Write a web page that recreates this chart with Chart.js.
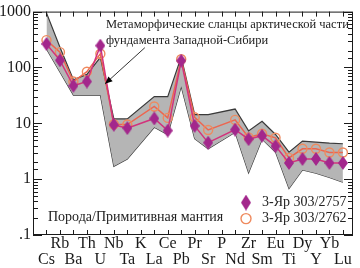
<!DOCTYPE html>
<html>
<head>
<meta charset="utf-8">
<script src="https://cdn.jsdelivr.net/npm/chart.js@4.4.1/dist/chart.umd.min.js"></script>
<style>
    html, body { margin: 0; padding: 0; background: #fff; }
</style>
</head>
<body>
<canvas id="spiderChart" width="360" height="268"></canvas>
<script>
const elements = ['Cs', 'Rb', 'Ba', 'Th', 'U', 'Nb', 'Ta', 'K', 'La', 'Ce', 'Pb', 'Pr', 'Sr', 'P', 'Nd', 'Zr', 'Sm', 'Eu', 'Ti', 'Dy', 'Y', 'Yb', 'Lu'];

// sample 3-Яр 303/2757 (diamonds), 3-Яр 303/2762 (circles); null = not analysed
const sample2757 = [263, 134, 47, 56, 246, 9.4, 8.2, null, 12.2, 7.4, 132, 9.0, 4.5, null, 7.7, 5.2, 6.0, 3.9, 1.95, 2.3, 2.3, 1.95, 1.95];
const sample2762 = [309, 188, 56, 84, 176, 9.6, 9.5, null, 20, 12.5, 140, 12.8, 7.6, null, 11.5, 5.6, 6.5, 5.5, 2.4, 3.5, 3.5, 3.0, 3.0];

// field of metamorphic schists
const fieldUpper = [950, 230, 60, 75, 152, 12, 12, null, 30, 30, 155, 14.3, 14.3, null, 18, 7.3, 10.9, 6.3, 3.05, 4.8, 4.6, 4.4, 4.3];
const fieldLower = [215, 83, 32, 32, 32, 1.7, 2.3, null, 8.5, 6.3, 46, 5.3, 3.5, null, 6.9, 1.3, 5.2, 3.05, 0.68, 1.46, 1.28, 1.07, 0.88];

const yTicks = [0.1, 1, 10, 100, 1000];
const yTickLabels = ['.1', '1', '10', '100', '1000'];

const sampleLabels = ['3-Яр 303/2757', '3-Яр 303/2762'];
const fieldTitle = ['Метаморфические сланцы арктической части', 'фундамента Западной-Сибири'];
const normTitle = 'Порода/Примитивная мантия';

const serif = "'Liberation Serif', 'DejaVu Serif', serif";
const purple = '#a3278c';
const pinkLine = '#d2337c';
const orange = '#ef8a5e';
const orangeLine = '#ec6650';

const toPoints = arr => arr.map((v, i) => v == null ? null : { x: i, y: v }).filter(Boolean);

// tall diamond marker
function makeDiamond(w, h) {
    const c = document.createElement('canvas');
    c.width = w; c.height = h;
    const g = c.getContext('2d');
    g.fillStyle = purple;
    g.beginPath();
    g.moveTo(w / 2, 0);
    g.lineTo(w, h / 2);
    g.lineTo(w / 2, h);
    g.lineTo(0, h / 2);
    g.closePath();
    g.fill();
    return c;
}
const diamond = makeDiamond(10, 14);

const isDecade = v => Math.abs(Math.log10(v) - Math.round(Math.log10(v))) < 1e-6;

const decorPlugin = {
    id: 'decor',
    afterDraw(chart) {
        const { ctx, chartArea: a, scales: { x, y } } = chart;
        ctx.save();
        ctx.strokeStyle = '#1a1a1a';
        ctx.lineWidth = 1;
        ctx.strokeRect(a.left + 0.5, a.top + 0.5, a.width - 1, a.height - 1);

        ctx.beginPath();
        x.ticks.forEach(t => {
            const px = Math.round(x.getPixelForValue(t.value)) + 0.5;
            ctx.moveTo(px, a.bottom); ctx.lineTo(px, a.bottom - 5);
            ctx.moveTo(px, a.top); ctx.lineTo(px, a.top + 5);
        });
        y.ticks.forEach(t => {
            const py = Math.round(y.getPixelForValue(t.value)) + 0.5;
            const len = isDecade(t.value) ? 9 : 5;
            ctx.moveTo(a.left, py); ctx.lineTo(a.left + len, py);
            ctx.moveTo(a.right, py); ctx.lineTo(a.right - len, py);
        });
        ctx.stroke();

        // field caption with arrow
        ctx.fillStyle = '#222';
        ctx.font = '12.5px ' + serif;
        ctx.textBaseline = 'middle';
        ctx.textAlign = 'left';
        ctx.fillText(fieldTitle[0], a.left + 73, a.top + 13);
        ctx.fillText(fieldTitle[1], a.left + 73, a.top + 29);

        const x0 = x.getPixelForValue(7.3), y0 = y.getPixelForValue(226);
        const x1 = x.getPixelForValue(4.35), y1 = y.getPixelForValue(51);
        ctx.strokeStyle = '#333';
        ctx.beginPath();
        ctx.moveTo(x0, y0); ctx.lineTo(x1, y1);
        ctx.stroke();
        const ang = Math.atan2(y1 - y0, x1 - x0);
        ctx.fillStyle = '#000';
        ctx.beginPath();
        ctx.moveTo(x1, y1);
        ctx.lineTo(x1 - 8 * Math.cos(ang - 0.4), y1 - 8 * Math.sin(ang - 0.4));
        ctx.lineTo(x1 - 8 * Math.cos(ang + 0.4), y1 - 8 * Math.sin(ang + 0.4));
        ctx.closePath();
        ctx.fill();

        // normalisation note
        ctx.font = '14px ' + serif;
        ctx.fillStyle = '#222';
        ctx.fillText(normTitle, a.left + 15, a.bottom - 18);

        // legend
        const lx = a.left + 213;
        ctx.drawImage(makeDiamond(10, 16), lx - 5, a.top + 191 - 8);
        ctx.fillText(sampleLabels[0], lx + 16, a.top + 191);
        ctx.strokeStyle = orange;
        ctx.lineWidth = 1.4;
        ctx.beginPath();
        ctx.arc(lx, a.top + 207, 5, 0, Math.PI * 2);
        ctx.stroke();
        ctx.fillText(sampleLabels[1], lx + 16, a.top + 207);
        ctx.restore();
    }
};

const ctx = document.getElementById('spiderChart').getContext('2d');

new Chart(ctx, {
    type: 'line',
    data: {
        datasets: [
            {
                label: sampleLabels[0],
                data: toPoints(sample2757),
                borderColor: pinkLine,
                borderWidth: 1.5,
                pointStyle: diamond,
                pointBackgroundColor: purple,
                pointBorderColor: purple,
                fill: false,
                tension: 0
            },
            {
                label: sampleLabels[1],
                data: toPoints(sample2762),
                borderColor: orangeLine,
                borderWidth: 1.5,
                pointStyle: 'circle',
                pointRadius: 4.5,
                pointBorderWidth: 1.4,
                pointBorderColor: orange,
                pointBackgroundColor: 'rgba(255,255,255,0)',
                fill: false,
                tension: 0
            },
            {
                label: 'upper',
                data: toPoints(fieldUpper),
                borderColor: '#3a3a3a',
                borderWidth: 1.2,
                backgroundColor: '#b5b5b5',
                pointRadius: 0,
                fill: '+1',
                tension: 0
            },
            {
                label: 'lower',
                data: toPoints(fieldLower),
                borderColor: '#3a3a3a',
                borderWidth: 1.2,
                pointRadius: 0,
                fill: false,
                tension: 0
            }
        ]
    },
    options: {
        responsive: false,
        animation: false,
        layout: { padding: { top: 6, right: 7 } },
        plugins: {
            legend: { display: false },
            tooltip: { enabled: false }
        },
        scales: {
            x: {
                type: 'linear',
                min: -1,
                max: 22.75,
                afterBuildTicks: s => { s.ticks = elements.map((e, i) => ({ value: i })); },
                afterFit: s => { s.height = 33; },
                grid: { display: false, drawTicks: false },
                border: { display: false },
                ticks: {
                    autoSkip: false,
                    maxRotation: 0,
                    padding: 0,
                    color: '#1a1a1a',
                    font: { family: serif, size: 16, lineHeight: 1.05 },
                    callback: v => {
                        const name = elements[v];
                        if (name === undefined) return '';
                        return v % 2 === 0 ? ['', name] : [name, ''];
                    }
                }
            },
            y: {
                type: 'logarithmic',
                min: 0.1,
                max: 1000,
                afterFit: s => { s.width = 33; },
                grid: { display: false, drawTicks: false },
                border: { display: false },
                ticks: {
                    autoSkip: false,
                    padding: 2,
                    color: '#1a1a1a',
                    font: { family: serif, size: 16 },
                    callback: v => {
                        if (!isDecade(v)) return '';
                        const i = yTicks.findIndex(t => Math.abs(t - v) / t < 1e-6);
                        return i < 0 ? '' : yTickLabels[i];
                    }
                }
            }
        }
    },
    plugins: [decorPlugin]
});
</script>
</body>
</html>
